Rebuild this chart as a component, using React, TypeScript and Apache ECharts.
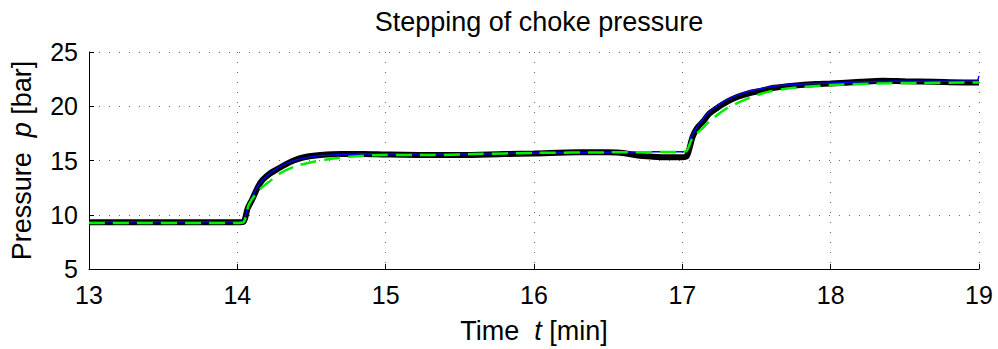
import React, { useEffect, useRef } from "react";
import * as echarts from "echarts";

const titleText = "Stepping of choke pressure";
const xTicks = [13, 14, 15, 16, 17, 18, 19];
const yTicks = [5, 10, 15, 20, 25];

const measTime = [13, 13.5, 14.0, 14.04, 14.07, 14.1, 14.14, 14.17, 14.22, 14.27, 14.32, 14.38, 14.45, 14.56, 14.7, 14.85, 15.0, 15.3, 15.5, 15.8, 16.0, 16.3, 16.5, 16.6, 16.7, 16.8, 16.9, 17.0, 17.03, 17.07, 17.1, 17.14, 17.18, 17.23, 17.3, 17.37, 17.45, 17.52, 17.62, 17.75, 17.9, 18.0, 18.2, 18.35, 18.5, 18.7, 18.9, 19.0];
const measP = [9.3, 9.3, 9.32, 9.35, 10.6, 11.4, 12.6, 13.2, 13.8, 14.2, 14.6, 15.0, 15.3, 15.5, 15.6, 15.6, 15.55, 15.5, 15.5, 15.6, 15.65, 15.75, 15.75, 15.7, 15.45, 15.35, 15.3, 15.3, 15.4, 17.2, 18.0, 18.6, 19.3, 19.8, 20.4, 20.85, 21.2, 21.4, 21.7, 21.9, 22.05, 22.1, 22.25, 22.35, 22.3, 22.25, 22.2, 22.2];

const fitTime = [13, 14.0, 14.04, 14.07, 14.1, 14.14, 14.2, 14.27, 14.35, 14.45, 14.56, 14.7, 14.85, 15.0, 15.5, 16.0, 16.5, 16.8, 17.0, 17.03, 17.06, 17.1, 17.15, 17.2, 17.28, 17.37, 17.47, 17.6, 17.75, 17.9, 18.1, 18.4, 18.7, 18.98, 19.0];
const fitP = [9.35, 9.35, 9.4, 10.7, 11.6, 12.7, 13.6, 14.3, 14.85, 15.2, 15.45, 15.55, 15.6, 15.6, 15.6, 15.7, 15.75, 15.8, 15.8, 15.85, 17.2, 18.1, 19.0, 19.7, 20.45, 21.0, 21.45, 21.8, 22.0, 22.1, 22.2, 22.3, 22.3, 22.3, 22.8];

const modelTime = [13, 14.0, 14.04, 14.08, 14.15, 14.22, 14.3, 14.4, 14.5, 14.6, 14.8, 15.0, 15.3, 15.6, 16.0, 16.5, 17.0, 17.03, 17.07, 17.13, 17.19, 17.3, 17.44, 17.57, 17.75, 18.0, 18.3, 18.6, 19.0];
const modelP = [9.25, 9.25, 9.3, 11.0, 12.3, 13.1, 13.9, 14.5, 14.85, 15.1, 15.4, 15.5, 15.5, 15.6, 15.7, 15.75, 15.8, 15.9, 17.1, 17.9, 18.7, 19.8, 20.7, 21.3, 21.7, 21.95, 22.1, 22.15, 22.2];

const zip = (t: number[], v: number[]) => t.map((x, i) => [x, v[i]]);

const FONT = "Liberation Sans";
const FS = 27;
const TICK_FS = 25;

export default function App() {
  const ref = useRef<HTMLDivElement>(null);
  useEffect(() => {
    if (!ref.current) return;
    const chart = echarts.init(ref.current, null, { renderer: "svg" });
    const gridLine = { show: true, lineStyle: { color: "#666", width: 1, type: [1, 9] as any } };
    const rich = {
      a: { fontFamily: FONT, fontSize: FS, color: "#000" },
      b: { fontFamily: FONT, fontSize: FS, color: "#000", fontStyle: "italic" },
    };
    chart.setOption({
      animation: false,
      backgroundColor: "#fff",
      title: {
        text: titleText,
        left: 534,
        textAlign: "center",
        top: 3,
        textStyle: { fontFamily: FONT, fontSize: FS, fontWeight: "normal", color: "#000" },
      },
      grid: { left: 89, right: 19, top: 52, bottom: 75 },
      xAxis: {
        type: "value",
        min: xTicks[0],
        max: xTicks[xTicks.length - 1],
        interval: 1,
        axisLine: { show: true, lineStyle: { color: "#000", width: 1 } },
        axisTick: { show: true, inside: true, length: 5, lineStyle: { color: "#000" } },
        axisLabel: { fontFamily: FONT, fontSize: TICK_FS, color: "#000", margin: 13 },
        splitLine: gridLine,
        name: "{a|Time  }{b|t}{a| [min]}",
        nameLocation: "middle",
        nameGap: 48,
        nameTextStyle: { rich },
      },
      yAxis: {
        type: "value",
        min: yTicks[0],
        max: yTicks[yTicks.length - 1],
        interval: 5,
        axisLine: { show: true, lineStyle: { color: "#000", width: 1 } },
        axisTick: { show: true, inside: true, length: 5, lineStyle: { color: "#000" } },
        axisLabel: { fontFamily: FONT, fontSize: TICK_FS, color: "#000", margin: 11 },
        splitLine: gridLine,
        name: "{a|Pressure  }{b|p}{a| [bar]}",
        nameLocation: "middle",
        nameGap: 54,
        nameRotate: 90,
        nameTextStyle: { rich },
      },
      series: [
        {
          type: "line",
          data: zip(measTime, measP),
          showSymbol: false,
          smooth: 0.3,
          lineStyle: { color: "#000", width: 6 },
          z: 2,
        },
        {
          type: "line",
          data: zip(fitTime, fitP),
          showSymbol: false,
          smooth: 0.3,
          lineStyle: { color: "#0000ff", width: 1.5 },
          z: 3,
        },
        {
          type: "line",
          data: zip(modelTime, modelP),
          showSymbol: false,
          smooth: 0.3,
          lineStyle: { color: "#00ee00", width: 2.5, type: [16, 8] as any },
          z: 4,
        },
      ],
    });
    return () => chart.dispose();
  }, []);
  return <div ref={ref} style={{ width: 998, height: 349, position: "absolute", left: 0, top: 0 }} />;
}
